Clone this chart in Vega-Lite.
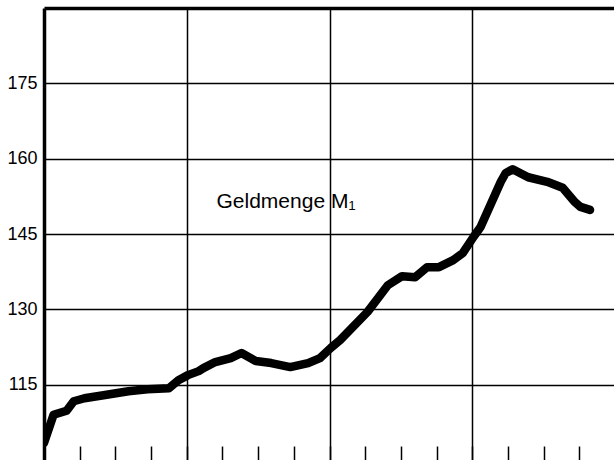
{
  "$schema": "https://vega.github.io/schema/vega-lite/v6.json",
  "width": 571,
  "height": 452,
  "autosize": {"type": "none"},
  "padding": {"left": 44, "top": 8, "right": 0, "bottom": 0},
  "background": "white",
  "config": {
    "view": {"stroke": null},
    "font": "Liberation Sans",
    "axis": {"labelColor": "black", "labelFont": "Liberation Sans"}
  },
  "layer": [
    {
      "data": {"values": [
        {"month": 0, "value": 103.4},
        {"month": 0.8, "value": 109.0},
        {"month": 1.9, "value": 109.8},
        {"month": 2.5, "value": 111.7},
        {"month": 3.4, "value": 112.3},
        {"month": 5.0, "value": 112.9},
        {"month": 7.1, "value": 113.7},
        {"month": 8.7, "value": 114.1},
        {"month": 10.5, "value": 114.3},
        {"month": 11.3, "value": 115.9},
        {"month": 12.1, "value": 116.9},
        {"month": 13.0, "value": 117.7},
        {"month": 13.4, "value": 118.3},
        {"month": 14.4, "value": 119.5},
        {"month": 15.7, "value": 120.3},
        {"month": 16.6, "value": 121.3},
        {"month": 17.8, "value": 119.7},
        {"month": 19.1, "value": 119.3},
        {"month": 20.7, "value": 118.5},
        {"month": 22.2, "value": 119.3},
        {"month": 23.2, "value": 120.3},
        {"month": 24.1, "value": 122.3},
        {"month": 24.9, "value": 123.9},
        {"month": 27.2, "value": 129.5},
        {"month": 28.9, "value": 134.8},
        {"month": 30.1, "value": 136.6},
        {"month": 31.2, "value": 136.4},
        {"month": 32.2, "value": 138.4},
        {"month": 33.2, "value": 138.4},
        {"month": 34.4, "value": 139.8},
        {"month": 35.2, "value": 141.2},
        {"month": 36.1, "value": 144.4},
        {"month": 36.7, "value": 146.4},
        {"month": 38.4, "value": 155.4},
        {"month": 38.8, "value": 157.1},
        {"month": 39.4, "value": 157.9},
        {"month": 40.7, "value": 156.3},
        {"month": 42.3, "value": 155.4},
        {"month": 43.6, "value": 154.2},
        {"month": 44.6, "value": 151.4},
        {"month": 45.1, "value": 150.4},
        {"month": 45.9, "value": 149.8}
      ]},
      "mark": {"type": "line", "color": "black", "strokeWidth": 8.5, "strokeCap": "round", "strokeJoin": "round", "clip": true},
      "encoding": {
        "x": {
          "field": "month", "type": "quantitative",
          "scale": {"domain": [0, 48], "nice": false, "zero": false},
          "axis": {
            "orient": "bottom", "title": null, "labels": false, "domain": false,
            "values": [3, 6, 9, 12, 15, 18, 21, 24, 27, 30, 33, 36, 39, 42, 45],
            "ticks": true, "tickSize": -14, "tickColor": "black", "tickWidth": 1.5,
            "grid": true, "gridColor": "black", "gridWidth": 1.5,
            "gridOpacity": {"condition": {"test": "datum.value % 12 === 0", "value": 1}, "value": 0}
          }
        },
        "y": {
          "field": "value", "type": "quantitative",
          "scale": {"domain": [100, 190], "nice": false, "zero": false},
          "axis": {
            "orient": "left", "title": null,
            "values": [115, 130, 145, 160, 175],
            "ticks": false, "domain": true, "domainColor": "black", "domainWidth": 3.5,
            "grid": true, "gridColor": "black", "gridWidth": 1.3, "gridOpacity": 1,
            "labelFontSize": 18, "labelPadding": 7, "labelColor": "black"
          }
        }
      }
    },
    {
      "data": {"values": [{"month": 14.5, "value": 150.1, "label": "Geldmenge M₁"}]},
      "mark": {"type": "text", "align": "left", "baseline": "alphabetic", "fontSize": 21, "font": "Liberation Sans", "color": "black"},
      "encoding": {
        "x": {
          "field": "month", "type": "quantitative",
          "axis": {"orient": "top", "title": null, "labels": false, "ticks": false, "grid": false, "domain": true, "domainColor": "black", "domainWidth": 3.5}
        },
        "y": {
          "field": "value", "type": "quantitative",
          "axis": {
            "orient": "left", "title": null,
            "values": [115, 130, 145, 160, 175],
            "ticks": false, "domain": true, "domainColor": "black", "domainWidth": 3.5,
            "grid": true, "gridColor": "black", "gridWidth": 1.3, "gridOpacity": 1,
            "labelFontSize": 18, "labelPadding": 7, "labelColor": "black"
          }
        },
        "text": {"field": "label"}
      }
    }
  ],
  "resolve": {"axis": {"x": "independent"}}
}
